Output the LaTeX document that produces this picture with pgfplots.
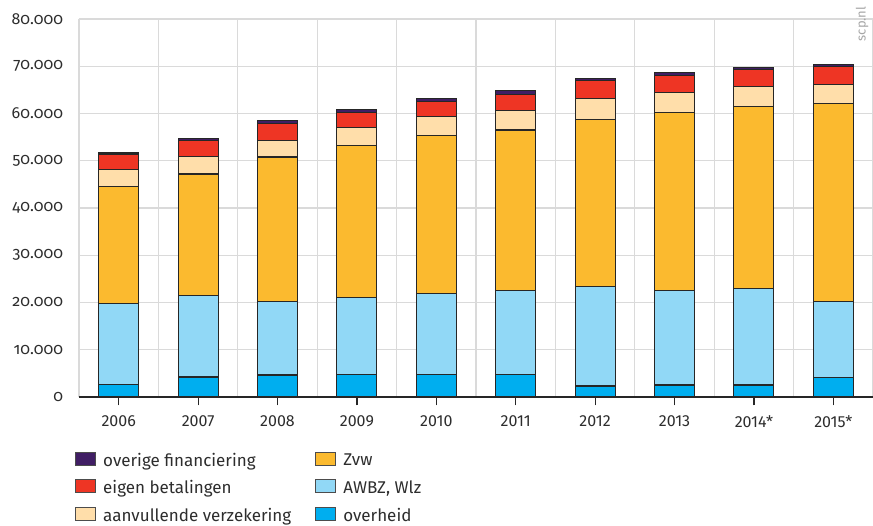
\documentclass[border=0pt]{standalone}
\usepackage{fontspec}
\setmainfont{Fira Sans}[Numbers=Lining]
\newfontfamily\oldnum{Fira Sans}[Numbers=OldStyle]
\usepackage{pgfplots}
\usepackage{pgfplotstable}
\pgfplotsset{compat=1.18}

\definecolor{cOverig}{RGB}{64,30,100}
\definecolor{cEigen}{RGB}{238,53,36}
\definecolor{cAanv}{RGB}{255,222,170}
\definecolor{cZvw}{RGB}{251,186,47}
\definecolor{cAwbz}{RGB}{145,216,246}
\definecolor{cOverheid}{RGB}{0,174,239}
\definecolor{cGrid}{RGB}{218,218,218}
\definecolor{cText}{RGB}{45,45,45}

% uitgaven in mln euro, per financieringsbron
\pgfplotstableread{
x overheid awbz zvw aanv eigen overig
0 2550 17150 24900 3500 3300 250
1 4240 17160 25800 3700 3300 600
2 4660 15540 30600 3500 3600 600
3 4800 16200 32200 3900 3100 600
4 4800 17100 33500 3900 3300 500
5 4800 17800 33900 4200 3400 700
6 2330 21070 35400 4300 3800 500
7 2540 19960 37700 4300 3600 500
8 2540 20360 38500 4300 3700 400
9 4170 16130 41800 4100 3700 400
}\data

\begin{document}
\begin{tikzpicture}[font=\fontsize{16}{19}\selectfont, text=cText]
\useasboundingbox (-79pt,-129pt) rectangle (794pt,397pt);
\begin{axis}[
    name=ax,
    at={(0,0)}, anchor=south west,
    scale only axis, width=794pt, height=378pt,
    ybar stacked, bar width=40pt,
    xmin=-0.5, xmax=9.5, ymin=0, ymax=80000,
    xtick={0,...,9},
    xticklabels={2006,2007,2008,2009,2010,2011,2012,2013,2014*,2015*},
    minor xtick={-0.5,0.5,...,9.5},
    ytick={0,10000,...,80000},
    xminorgrids, ymajorgrids,
    grid style={draw=cGrid, line width=1.3pt},
    minor grid style={draw=cGrid, line width=1.3pt},
    axis x line*=bottom, axis y line*=left,
    x axis line style={-, black!85, line width=1.3pt},
    y axis line style={draw=none},
    ytick style={draw=none},
    minor tick length=0pt,
    tick align=center, major tick length=17pt,
    xtick style={black!85, line width=1.2pt},
    scaled y ticks=false,
    yticklabel style={font=\fontsize{16}{19}\selectfont\oldnum, xshift=-4pt,
      /pgf/number format/.cd, fixed, 1000 sep={.}, assume math mode=true},
    xticklabel style={font=\fontsize{16}{19}\selectfont, yshift=-7pt},
    legend columns=2,
    legend cell align=left,
    legend image code/.code={\draw[#1] (0pt,-5pt) rectangle (20pt,8pt);},
    legend style={at={(axis description cs:-0.005,-0.143)}, anchor=north west,
      draw=none, fill=none, inner sep=0pt, row sep=8.5pt,
      font=\fontsize{17}{20}\selectfont,
      /tikz/every odd column/.append style={column sep=5pt},
      /tikz/every even column/.append style={column sep=22pt}},
  ]
\addplot[fill=cOverheid, draw=black!85, line width=1.1pt, forget plot] table[x=x, y=overheid] {\data};
\addplot[fill=cAwbz, draw=black!85, line width=1.1pt, forget plot] table[x=x, y=awbz] {\data};
\addplot[fill=cZvw, draw=black!85, line width=1.1pt, forget plot] table[x=x, y=zvw] {\data};
\addplot[fill=cAanv, draw=black!85, line width=1.1pt, forget plot] table[x=x, y=aanv] {\data};
\addplot[fill=cEigen, draw=black!85, line width=1.1pt, forget plot] table[x=x, y=eigen] {\data};
\addplot[fill=cOverig, draw=black!85, line width=1.1pt, forget plot] table[x=x, y=overig] {\data};

\addlegendimage{fill=cOverig, draw=black!70, line width=1pt}
\addlegendentry{overige financiering}
\addlegendimage{fill=cZvw, draw=black!70, line width=1pt}
\addlegendentry{Zvw}
\addlegendimage{fill=cEigen, draw=black!70, line width=1pt}
\addlegendentry{eigen betalingen}
\addlegendimage{fill=cAwbz, draw=black!70, line width=1pt}
\addlegendentry{AWBZ, Wlz}
\addlegendimage{fill=cAanv, draw=black!70, line width=1pt}
\addlegendentry{aanvullende verzekering}
\addlegendimage{fill=cOverheid, draw=black!70, line width=1pt}
\addlegendentry{overheid}
\end{axis}
\node[rotate=90, font=\fontsize{13}{15}\selectfont, text=black!35]
  at ([xshift=-11pt, yshift=-5pt]ax.north east) {scp.nl};
\end{tikzpicture}
\end{document}
